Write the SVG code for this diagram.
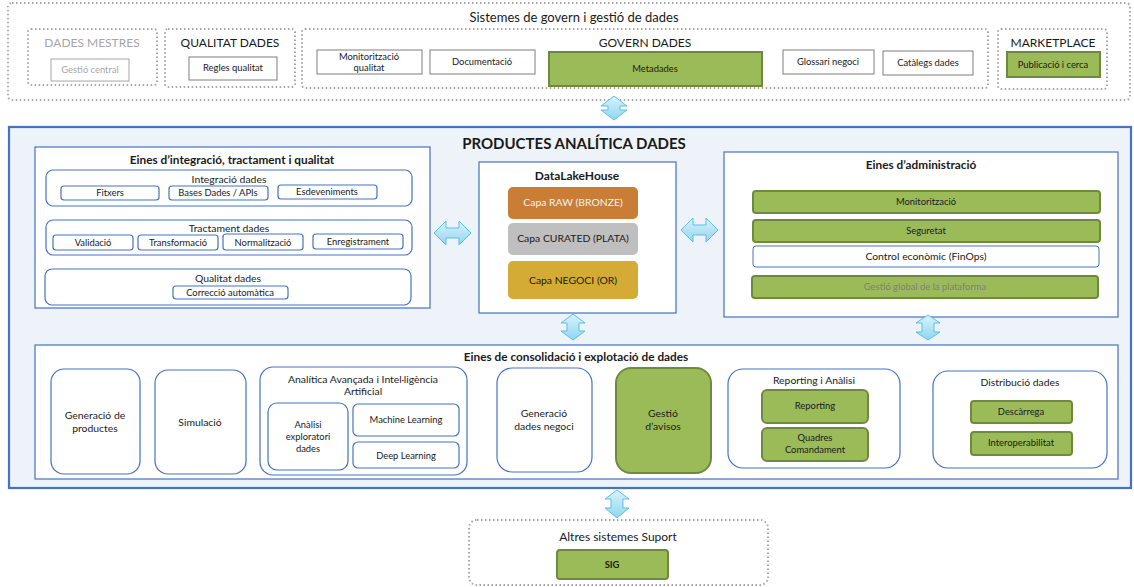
<svg xmlns="http://www.w3.org/2000/svg" width="1134" height="587" viewBox="0 0 1134 587">
  <defs>
    <linearGradient id="arrowFill" x1="0" y1="0" x2="0" y2="1">
      <stop offset="0" stop-color="#d9f3fc"/>
      <stop offset="1" stop-color="#8fd6f0"/>
    </linearGradient>
  </defs>
  <style>
    text { font-family: Lato, "Liberation Sans", sans-serif; fill: #1a1a1a; text-anchor: middle; }
    .dot { fill: none; stroke: #a6a6a6; stroke-width: 2; stroke-dasharray: 1.5 2.5; }
    .plain { fill: #ffffff; stroke: #7f7f7f; stroke-width: 1; }
    .green { fill: #9bbb59; stroke: #6f8a3c; stroke-width: 2; }
    .blue { fill: #ffffff; stroke: #4472c4; stroke-width: 1.2; }
    .arrow { fill: url(#arrowFill); stroke: #5bbfe3; stroke-width: 1; }
    .t9 { font-size: 9.4px; }
    .t10 { font-size: 10.4px; }
    .t11 { font-size: 11.8px; }
    .t12 { font-size: 12px; }
    .b { font-weight: bold; }
  </style>

  <!-- Governance band -->
  <g id="govern">
    <rect x="8" y="3" width="1122" height="97" rx="4" fill="#f2f2f2" class="dot"/>
    <text x="574" y="22" style="font-size:13px">Sistemes de govern i gestió de dades</text>
  </g>

  <g id="dades-mestres">
    <rect x="28" y="29" width="129" height="56" rx="3" class="dot"/>
    <text x="92" y="47" class="t12" style="fill:#a6a6a6">DADES MESTRES</text>
    <rect x="51" y="59" width="78" height="22" fill="#ffffff" stroke="#a6a6a6"/>
    <text x="90" y="73" class="t9" style="fill:#a6a6a6">Gestió central</text>
  </g>

  <g id="qualitat-dades">
    <rect x="165" y="29" width="130" height="58" rx="3" class="dot"/>
    <text x="230" y="47" class="t12">QUALITAT DADES</text>
    <rect x="189" y="57" width="88" height="23" class="plain"/>
    <text x="233" y="71" class="t9">Regles qualitat</text>
  </g>

  <g id="govern-dades">
    <rect x="302" y="29" width="686" height="59" rx="3" class="dot"/>
    <text x="645" y="47" class="t12">GOVERN DADES</text>
    <rect x="317" y="50" width="105" height="24" class="plain"/>
    <text x="369" y="60" class="t9">Monitorització</text>
    <text x="369" y="71" class="t9">qualitat</text>
    <rect x="430" y="50" width="105" height="24" class="plain"/>
    <text x="482" y="65" class="t9">Documentació</text>
    <rect x="549" y="52" width="213" height="34" class="green"/>
    <text x="655" y="72" class="t9">Metadades</text>
    <rect x="783" y="50" width="91" height="24" class="plain"/>
    <text x="828" y="65" class="t9">Glossari negoci</text>
    <rect x="883" y="51" width="90" height="24" class="plain"/>
    <text x="928" y="66" class="t9">Catàlegs dades</text>
  </g>

  <g id="marketplace">
    <rect x="998" y="29" width="109" height="60" rx="3" class="dot"/>
    <text x="1053" y="47" class="t12">MARKETPLACE</text>
    <rect x="1007" y="52" width="93" height="25" class="green"/>
    <text x="1053" y="68" class="t9">Publicació i cerca</text>
  </g>

  <!-- Analytics products frame -->
  <g id="productes">
    <rect x="9" y="127" width="1122" height="361" fill="#eef2f9" stroke="#4472c4" stroke-width="2.2"/>
    <text x="574" y="149" class="b" style="font-size:15px">PRODUCTES ANALÍTICA DADES</text>
  </g>

  <g id="eines-integracio">
    <rect x="35" y="147" width="395" height="161" class="blue"/>
    <text x="232" y="164" class="t11 b">Eines d’integració, tractament i qualitat</text>

    <rect x="46" y="170" width="366" height="36" rx="7" class="blue"/>
    <text x="229" y="183" class="t10">Integració dades</text>
    <rect x="61" y="186" width="98" height="14" rx="3" class="blue"/>
    <text x="110" y="196" class="t9">Fitxers</text>
    <rect x="169" y="186" width="99" height="14" rx="3" class="blue"/>
    <text x="218" y="196" class="t9">Bases Dades / APIs</text>
    <rect x="278" y="185" width="99" height="14" rx="3" class="blue"/>
    <text x="327" y="195" class="t9">Esdeveniments</text>

    <rect x="46" y="220" width="366" height="35" rx="7" class="blue"/>
    <text x="229" y="232" class="t10">Tractament dades</text>
    <rect x="53" y="235" width="80" height="15" rx="3" class="blue"/>
    <text x="93" y="245.5" class="t9">Validació</text>
    <rect x="138" y="235" width="80" height="15" rx="3" class="blue"/>
    <text x="178" y="245.5" class="t9">Transformació</text>
    <rect x="223" y="234" width="80" height="16" rx="3" class="blue"/>
    <text x="263" y="245.5" class="t9">Normalització</text>
    <rect x="313" y="234" width="90" height="15" rx="3" class="blue"/>
    <text x="358" y="244.5" class="t9">Enregistrament</text>

    <rect x="45" y="269" width="366" height="36" rx="7" class="blue"/>
    <text x="228" y="282" class="t10">Qualitat dades</text>
    <rect x="173" y="286" width="115" height="13" rx="3" class="blue"/>
    <text x="230" y="295.5" class="t9">Correcció automàtica</text>
  </g>

  <g id="datalakehouse">
    <rect x="479" y="162" width="197" height="151" class="blue"/>
    <text x="577" y="180" class="t12 b">DataLakeHouse</text>
    <rect x="508" y="187" width="130" height="32" rx="5" fill="#c97d35"/>
    <text x="573" y="206" class="t10" style="fill:#f2f2f2">Capa RAW (BRONZE)</text>
    <rect x="508" y="223" width="130" height="32" rx="5" fill="#bfbfbf"/>
    <text x="573" y="242" class="t10">Capa CURATED (PLATA)</text>
    <rect x="508" y="261" width="130" height="38" rx="5" fill="#d4ab34"/>
    <text x="573" y="284" class="t10">Capa NEGOCI (OR)</text>
  </g>

  <g id="eines-administracio">
    <rect x="724" y="152" width="394" height="165" class="blue"/>
    <text x="921" y="169" class="t11 b">Eines d’administració</text>
    <rect x="753" y="191" width="347" height="22" rx="3" class="green"/>
    <text x="926" y="205" class="t9">Monitorització</text>
    <rect x="753" y="220" width="347" height="22" rx="3" class="green"/>
    <text x="926" y="234" class="t9">Seguretat</text>
    <rect x="753" y="246" width="346" height="21" rx="3" fill="#ffffff" stroke="#4472c4" stroke-width="1"/>
    <text x="926" y="260" class="t10">Control econòmic (FinOps)</text>
    <rect x="752" y="276" width="346" height="22" rx="3" class="green"/>
    <text x="925" y="290" class="t9" style="fill:#7f7f7f">Gestió global de la plataforma</text>
  </g>

  <g id="eines-consolidacio">
    <rect x="35" y="345" width="1083" height="134" class="blue"/>
    <text x="576" y="361" class="t11 b">Eines de consolidació i explotació de dades</text>
  </g>

  <g id="generacio-productes">
    <rect x="51" y="369" width="89" height="105" rx="13" class="blue"/>
    <text x="95" y="419" class="t10">Generació de</text>
    <text x="95" y="432" class="t10">productes</text>
  </g>

  <g id="simulacio">
    <rect x="155" y="370" width="91" height="104" rx="13" class="blue"/>
    <text x="200" y="426" class="t10">Simulació</text>
  </g>

  <g id="analitica-avancada">
    <rect x="260" y="367" width="207" height="108" rx="13" class="blue"/>
    <text x="363" y="383" class="t10">Analítica Avançada i Intel·ligència</text>
    <text x="363" y="395" class="t10">Artificial</text>
    <rect x="268" y="403" width="80" height="67" rx="9" class="blue"/>
    <text x="308" y="428" class="t9">Anàlisi</text>
    <text x="308" y="440" class="t9">exploratori</text>
    <text x="308" y="452" class="t9">dades</text>
    <rect x="353" y="404" width="106" height="32" rx="5" class="blue"/>
    <text x="406" y="423" class="t9">Machine Learning</text>
    <rect x="353" y="442" width="106" height="26" rx="5" class="blue"/>
    <text x="406" y="459" class="t9">Deep Learning</text>
  </g>

  <g id="generacio-dades-negoci">
    <rect x="497" y="368" width="95" height="104" rx="15" class="blue"/>
    <text x="544" y="417" class="t10">Generació</text>
    <text x="544" y="430" class="t10">dades negoci</text>
  </g>

  <g id="gestio-avisos">
    <rect x="616" y="368" width="95" height="105" rx="15" class="green"/>
    <text x="663" y="417" class="t10">Gestió</text>
    <text x="663" y="430" class="t10">d’avisos</text>
  </g>

  <g id="reporting-analisi">
    <rect x="728" y="369" width="172" height="99" rx="15" class="blue"/>
    <text x="814" y="384" class="t10">Reporting i Anàlisi</text>
    <rect x="762" y="390" width="106" height="33" rx="5" class="green"/>
    <text x="815" y="409" class="t9">Reporting</text>
    <rect x="762" y="428" width="106" height="33" rx="5" class="green"/>
    <text x="815" y="441" class="t9">Quadres</text>
    <text x="815" y="453" class="t9">Comandament</text>
  </g>

  <g id="distribucio-dades">
    <rect x="933" y="371" width="174" height="97" rx="15" class="blue"/>
    <text x="1020" y="386" class="t10">Distribució dades</text>
    <rect x="971" y="401" width="101" height="22" rx="3" class="green"/>
    <text x="1021" y="415" class="t9">Descàrrega</text>
    <rect x="971" y="432" width="101" height="23" rx="3" class="green"/>
    <text x="1021" y="446" class="t9">Interoperabilitat</text>
  </g>

  <g id="altres-sistemes">
    <rect x="469" y="520" width="299" height="65" rx="8" fill="#f2f2f2" class="dot"/>
    <text x="618" y="541" class="t12">Altres sistemes Suport</text>
    <rect x="557" y="550" width="111" height="29" rx="3" class="green"/>
    <text x="612" y="568" class="t9 b">SIG</text>
  </g>

  <!-- Double-headed block arrows between the areas -->
  <g id="connectors">
    <!-- governance <-> products -->
    <path class="arrow" d="M614,96 L627,106 L620,106 L620,110 L627,110 L614,120 L601,110 L608,110 L608,106 L601,106 Z"/>
    <!-- integration tools <-> DataLakeHouse -->
    <path class="arrow" d="M434,233 L446,221 L446,228 L459,228 L459,221 L471,233 L459,245 L459,238 L446,238 L446,245 Z"/>
    <!-- DataLakeHouse <-> administration -->
    <path class="arrow" d="M681,230 L693,218 L693,225 L706,225 L706,218 L718,230 L706,242 L706,235 L693,235 L693,242 Z"/>
    <!-- DataLakeHouse <-> consolidation -->
    <path class="arrow" d="M573,314 L585,323 L579,323 L579,331 L585,331 L573,340 L561,331 L567,331 L567,323 L561,323 Z"/>
    <!-- administration <-> consolidation -->
    <path class="arrow" d="M928,315 L940,323 L934,323 L934,332 L940,332 L928,340 L916,332 L922,332 L922,323 L916,323 Z"/>
    <!-- products <-> support systems -->
    <path class="arrow" d="M617,490 L629,499 L623,499 L623,508 L629,508 L617,518 L605,508 L611,508 L611,499 L605,499 Z"/>
  </g>
</svg>
